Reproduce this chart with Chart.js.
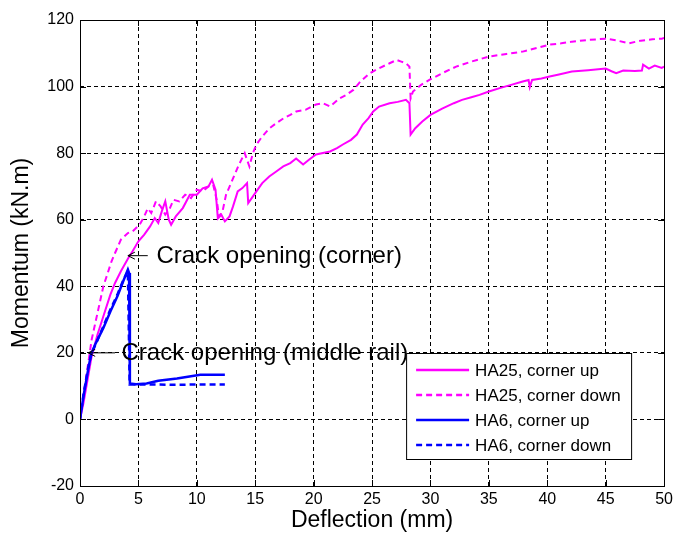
<!DOCTYPE html>
<html>
<head>
<meta charset="utf-8">
<script src="https://cdn.jsdelivr.net/npm/chart.js@4.4.1/dist/chart.umd.min.js"></script>
<style>
  html, body { margin: 0; padding: 0; background: #fff; }
  #wrap { width: 677px; height: 537px; }
</style>
</head>
<body>
<div id="wrap"><canvas id="chart"></canvas></div>
<script>
const FONT = "'Liberation Sans', Arial, sans-serif";

// axis ranges / ticks
const xRange = [0, 50];
const yRange = [-20, 120];
const xStep = 5;
const yStep = 20;

// HA25, corner up (solid magenta)
const ha25UpX = [0, 0.3, 0.6, 1.0, 1.5, 2.0, 2.6, 3.0, 3.5, 4.1, 4.5, 5.0, 5.5, 6.0, 6.4, 6.7, 7.0, 7.3, 7.6, 7.8,
  8.2, 8.8, 9.4, 10.0, 10.5, 11.0, 11.3, 11.6, 11.8, 12.1, 12.4, 12.8, 13.1, 13.5, 13.9, 14.3, 14.4, 14.7, 15.1, 15.6,
  16.2, 16.8, 17.4, 18.0, 18.5, 19.1, 19.6, 20.2, 21.4, 22.0, 22.5, 23.2, 23.7, 24.2, 24.7, 25.1, 25.6, 26.5, 27.2, 27.9,
  28.2, 28.3, 28.7, 29.3, 30.0, 31.0, 32.0, 32.7, 33.5, 34.2, 35.0, 36.0, 36.9, 37.9, 38.4, 38.5, 38.7, 39.5, 40.2, 41.0,
  42.1, 43.5, 45.0, 45.5, 45.9, 46.5, 47.5, 48.1, 48.2, 48.7, 49.2, 49.8, 50.0];
const ha25UpY = [0, 5, 11, 19, 25.5, 31, 37.5, 41, 44.5, 48.3, 50.5, 53.5, 55.5, 58, 60.5, 59, 62.5, 65.5, 60, 58.5,
  61, 63.5, 67.5, 67.5, 69.4, 70, 72, 69, 60.4, 61.5, 59.5, 61, 64, 68.5, 69.5, 71, 65, 66.5, 68.5, 71,
  73, 74.5, 76, 77, 78.4, 76.6, 78, 79.6, 80.5, 81.5, 82.6, 84, 85.6, 88.6, 90.5, 92.5, 94, 95, 95.4, 96,
  95, 85.6, 87.5, 89.5, 91.5, 93.4, 95, 96, 96.8, 97.5, 98.5, 99.6, 100.5, 101.5, 102, 99.8, 102, 102.4, 103, 103.6,
  104.5, 104.9, 105.4, 104.6, 104, 104.8, 104.7, 104.8, 106.6, 105.4, 106.3, 105.6, 106];

// HA25, corner down (dashed magenta)
const ha25DownX = [0, 0.5, 1.0, 1.5, 2.0, 2.7, 3.0, 3.5, 4.1, 4.5, 5.1, 5.5, 5.8, 6.1, 6.5, 6.9, 7.3, 7.7, 8.0, 8.5,
  9.0, 9.5, 10.0, 10.5, 11.0, 11.4, 11.7, 11.9, 12.2, 12.5, 13.1, 13.6, 14.1, 14.5, 14.8, 15.1, 15.6, 16.2, 16.8, 17.4,
  18.0, 18.5, 19.3, 20.2, 20.8, 21.4, 22.2, 22.8, 23.4, 24.0, 24.8, 25.6, 26.5, 27.1, 27.5, 27.9, 28.2, 28.3, 28.5, 29.2,
  29.9, 31.0, 32.2, 33.5, 35.0, 36.5, 37.9, 39.0, 40.2, 41.2, 42.1, 43.5, 45.0, 46.0, 47.0, 48.0, 49.0, 49.8, 50.0];
const ha25DownY = [0, 12, 24, 32, 40, 47.5, 50, 54, 56, 56.5, 58.5, 61, 63.4, 62, 65.5, 64, 61.5, 63.5, 66, 65.5,
  67.5, 66.5, 69, 68.5, 70, 70.5, 66, 61, 62.5, 67.5, 72.4, 76.5, 80, 76, 80, 82.6, 85, 87.4, 89, 90.4,
  91.5, 92.5, 93, 94.6, 95, 94, 96.4, 97.5, 99, 101.5, 104, 105.5, 107, 108, 107.5, 107, 106, 96.4, 98.5, 100.5,
  102, 104, 106, 107.5, 109, 109.8, 110.5, 111.5, 112.6, 113, 113.5, 114, 114.4, 113.8, 113, 113.8, 114.2, 114.4, 114.6];

// HA6, corner up (solid blue)
const ha6UpX = [0, 0.3, 0.7, 0.94, 1.3, 2.0, 2.6, 3.2, 3.7, 4.1, 4.2, 4.27, 4.8, 5.7, 6.7, 8.3, 9.5, 10.3, 12.4];
const ha6UpY = [0, 7, 15, 19.5, 22.5, 27.5, 32.4, 37, 41.5, 45, 44, 10.8, 10.6, 10.8, 11.6, 12.3, 13, 13.4, 13.4];

// HA6, corner down (dashed blue)
const ha6DownX = [0, 0.3, 0.7, 1.0, 1.4, 2.0, 2.6, 3.2, 3.7, 4.1, 4.25, 6.0, 8.0, 10.0, 12.4];
const ha6DownY = [0, 7.5, 15.5, 20, 23, 28, 33, 37.5, 41.8, 44.5, 10.5, 10.5, 10.4, 10.5, 10.5];

const seriesNames = ['HA25, corner up', 'HA25, corner down', 'HA6, corner up', 'HA6, corner down'];

// annotation anchors in data units: arrow tip, arrow tail, text start
const noteTexts = ['Crack opening (corner)', 'Crack opening (middle rail)'];
const noteTips = [[4.1, 49.2], [0.7, 20]];
const noteTails = [[5.8, 49.2], [3.0, 20]];
const noteStarts = [[6.55, 49.2], [3.55, 20]];

const toPoints = (xs, ys) => xs.map((x, i) => ({ x: x, y: ys[i] }));

const framePlugin = {
  id: 'matlabFrame',
  afterDatasetsDraw(chart) {
    const ctx = chart.ctx;
    const a = chart.chartArea;
    const xs = chart.scales.x;
    const ys = chart.scales.y;
    ctx.save();

    // annotations
    ctx.strokeStyle = '#000';
    ctx.fillStyle = '#000';
    ctx.lineWidth = 1;
    ctx.font = '24px ' + FONT;
    ctx.textAlign = 'left';
    ctx.textBaseline = 'middle';
    noteTexts.forEach((t, i) => {
      const tx = xs.getPixelForValue(noteTips[i][0]);
      const ty = ys.getPixelForValue(noteTips[i][1]);
      const lx = xs.getPixelForValue(noteTails[i][0]);
      ctx.beginPath();
      ctx.moveTo(lx, ty);
      ctx.lineTo(tx, ty);
      ctx.moveTo(tx + 7, ty - 3.5);
      ctx.lineTo(tx, ty);
      ctx.lineTo(tx + 7, ty + 3.5);
      ctx.stroke();
      ctx.fillText(t, xs.getPixelForValue(noteStarts[i][0]), ys.getPixelForValue(noteStarts[i][1]) + 1);
    });

    // inward ticks
    ctx.beginPath();
    for (let v = xRange[0] + xStep; v < xRange[1]; v += xStep) {
      const p = Math.round(xs.getPixelForValue(v)) + 0.5;
      ctx.moveTo(p, a.bottom); ctx.lineTo(p, a.bottom - 6);
      ctx.moveTo(p, a.top); ctx.lineTo(p, a.top + 6);
    }
    for (let v = yRange[0] + yStep; v < yRange[1]; v += yStep) {
      const p = Math.round(ys.getPixelForValue(v)) + 0.5;
      ctx.moveTo(a.left, p); ctx.lineTo(a.left + 6, p);
      ctx.moveTo(a.right, p); ctx.lineTo(a.right - 6, p);
    }
    ctx.stroke();

    // legend
    const lx = a.right - 258, ly = a.top + 333, lw = 225, lh = 106;
    ctx.fillStyle = '#fff';
    ctx.fillRect(lx, ly, lw, lh);
    ctx.strokeRect(lx + 0.5, ly + 0.5, lw, lh);
    ctx.font = '17px ' + FONT;
    chart.data.datasets.forEach((ds, i) => {
      const ry = ly + 17 + i * 25;
      ctx.strokeStyle = ds.borderColor;
      ctx.lineWidth = 2.5;
      ctx.setLineDash(ds.borderDash || []);
      ctx.beginPath();
      ctx.moveTo(lx + 10, ry);
      ctx.lineTo(lx + 63, ry);
      ctx.stroke();
      ctx.setLineDash([]);
      ctx.fillStyle = '#000';
      ctx.fillText(ds.label, lx + 69, ry + 1);
    });

    // box
    ctx.strokeStyle = '#000';
    ctx.lineWidth = 1;
    ctx.strokeRect(Math.round(a.left) + 0.5, Math.round(a.top) + 0.5,
      Math.round(a.right - a.left), Math.round(a.bottom - a.top));
    ctx.restore();
  }
};

new Chart(document.getElementById('chart'), {
  type: 'scatter',
  data: {
    datasets: [
      { label: seriesNames[0], data: toPoints(ha25UpX, ha25UpY), borderColor: '#ff00ff', borderWidth: 2, borderDash: [], order: 3 },
      { label: seriesNames[1], data: toPoints(ha25DownX, ha25DownY), borderColor: '#ff00ff', borderWidth: 2, borderDash: [6, 4], order: 2 },
      { label: seriesNames[2], data: toPoints(ha6UpX, ha6UpY), borderColor: '#0000ff', borderWidth: 2.5, borderDash: [], order: 0 },
      { label: seriesNames[3], data: toPoints(ha6DownX, ha6DownY), borderColor: '#0000ff', borderWidth: 2.5, borderDash: [6, 4], order: 1 }
    ].map(ds => Object.assign(ds, { showLine: true, pointRadius: 0, fill: false, tension: 0 }))
  },
  options: {
    responsive: true,
    maintainAspectRatio: false,
    animation: false,
    layout: { padding: { top: 20, right: 12, left: 0, bottom: 0 } },
    plugins: { legend: { display: false }, tooltip: { enabled: false } },
    scales: {
      x: {
        type: 'linear', min: xRange[0], max: xRange[1],
        ticks: { stepSize: xStep, color: '#000', font: { family: FONT, size: 16 }, padding: 4, maxRotation: 0 },
        grid: { color: '#000', lineWidth: 1, drawTicks: false },
        border: { display: false, dash: [4, 3] },
        title: { display: true, text: 'Deflection (mm)', color: '#000', font: { family: FONT, size: 23 }, padding: { top: 0, bottom: 3 } },
        afterFit(s) { s.height = 51; }
      },
      y: {
        type: 'linear', min: yRange[0], max: yRange[1],
        ticks: { stepSize: yStep, color: '#000', font: { family: FONT, size: 16 }, padding: 6 },
        grid: { color: '#000', lineWidth: 1, drawTicks: false },
        border: { display: false, dash: [4, 3] },
        title: { display: true, text: 'Momentum (kN.m)', color: '#000', font: { family: FONT, size: 23 }, padding: { top: 8, bottom: 0 } },
        afterFit(s) { s.width = 80; }
      }
    }
  },
  plugins: [framePlugin]
});
</script>
</body>
</html>
